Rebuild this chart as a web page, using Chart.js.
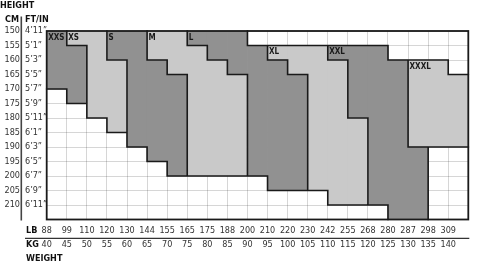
<!DOCTYPE html>
<html lang="en">
<head>
    <meta charset="UTF-8">
    <title>Size Chart</title>
    <!-- Include Chart.js -->
    <script src="https://cdn.jsdelivr.net/npm/chart.js"></script>
    <style>
        html, body { margin: 0; padding: 0; background: #fff; }
    </style>
</head>
<body>
    <canvas id="sizeChart" width="480" height="268"></canvas>

    <script>
        // Axis ticks: weight columns start every 5 kg, heights every 5 cm
        var kgTicks = [40, 45, 50, 55, 60, 65, 70, 75, 80, 85, 90, 95, 100, 105, 110, 115, 120, 125, 130, 135, 140];
        var lbTicks = [88, 99, 110, 120, 130, 144, 155, 165, 175, 188, 200, 210, 220, 230, 242, 255, 268, 280, 287, 298, 309];
        var cmTicks = [150, 155, 160, 165, 170, 175, 180, 185, 190, 195, 200, 205, 210];
        var ftTicks = ['4’11”', '5’1”', '5’3”', '5’5”', '5’7”', '5’9”', '5’11”', '6’1”', '6’3”', '6’5”', '6’7”', '6’9”', '6’11”'];

        // Sizes: each entry is [column start kg, from cm, to cm]
        var sizeNames = ['XXS', 'XS', 'S', 'M', 'L', 'XL', 'XXL', 'XXXL'];
        var xxs = [[40, 150, 170], [45, 155, 175]];
        var xs = [[45, 150, 155], [50, 150, 180], [55, 160, 185]];
        var s = [[55, 150, 160], [60, 150, 190], [65, 160, 195], [70, 165, 200]];
        var m = [[65, 150, 160], [70, 150, 165], [75, 155, 200], [80, 160, 200], [85, 165, 200]];
        var l = [[75, 150, 155], [80, 150, 160], [85, 150, 165], [90, 155, 200], [95, 160, 205], [100, 165, 205]];
        var xl = [[95, 155, 160], [100, 155, 165], [105, 155, 205], [110, 160, 210], [115, 180, 210]];
        var xxl = [[110, 155, 160], [115, 155, 180], [120, 155, 210], [125, 160, 215], [130, 190, 215]];
        var xxxl = [[130, 160, 190], [135, 160, 190], [140, 165, 190]];
        var sizeData = [xxs, xs, s, m, l, xl, xxl, xxxl];

        var colWidth = 5;
        var darkFill = '#919191';
        var lightFill = '#c9c9c9';
        var fontFamily = "'DejaVu Sans Condensed', 'DejaVu Sans', sans-serif";

        // which size owns each 5x5 cell (used for the black outlines)
        var owner = {};
        sizeData.forEach(function(pieces, si) {
            pieces.forEach(function(p) {
                for (var h = p[1]; h < p[2]; h += 5) owner[p[0] + '_' + h] = si;
            });
        });
        function own(kg, cm) {
            var v = owner[kg + '_' + cm];
            return v === undefined ? -1 : v;
        }

        var datasets = sizeData.map(function(pieces, si) {
            return {
                label: sizeNames[si],
                data: pieces.map(function(p) {
                    return { x: p[0] + colWidth / 2, y: [p[1], p[2]] };
                }),
                backgroundColor: si % 2 === 0 ? darkFill : lightFill,
                borderWidth: 0,
                grouped: false,
                barPercentage: 1,
                categoryPercentage: 1
            };
        });

        // outlines, size names and the header texts
        var sizeChartDecor = {
            id: 'sizeChartDecor',
            afterDraw: function(chart) {
                var ctx = chart.ctx;
                var xs_ = chart.scales.x, ys_ = chart.scales.y;
                var kgEnd = 145, cmEnd = 215;
                var area = chart.chartArea;
                ctx.save();

                // region outlines
                ctx.strokeStyle = '#1a1a1a';
                ctx.lineWidth = 1.6;
                ctx.lineCap = 'square';
                ctx.beginPath();
                var kg, cm;
                for (kg = 45; kg < kgEnd; kg += 5) {
                    for (cm = 150; cm < cmEnd; cm += 5) {
                        if (own(kg - 5, cm) !== own(kg, cm)) {
                            ctx.moveTo(xs_.getPixelForValue(kg), ys_.getPixelForValue(cm));
                            ctx.lineTo(xs_.getPixelForValue(kg), ys_.getPixelForValue(cm + 5));
                        }
                    }
                }
                for (cm = 155; cm < cmEnd; cm += 5) {
                    for (kg = 40; kg < kgEnd; kg += 5) {
                        if (own(kg, cm - 5) !== own(kg, cm)) {
                            ctx.moveTo(xs_.getPixelForValue(kg), ys_.getPixelForValue(cm));
                            ctx.lineTo(xs_.getPixelForValue(kg + 5), ys_.getPixelForValue(cm));
                        }
                    }
                }
                ctx.stroke();
                ctx.lineCap = 'butt';
                ctx.lineWidth = 1.8;
                ctx.strokeRect(area.left, area.top, area.right - area.left, area.bottom - area.top);

                // size names in the first cell of each size
                ctx.fillStyle = '#1a1a1a';
                ctx.font = 'bold 8px ' + fontFamily;
                ctx.textAlign = 'left';
                ctx.textBaseline = 'top';
                sizeData.forEach(function(pieces, si) {
                    var p = pieces[0];
                    ctx.fillText(sizeNames[si], xs_.getPixelForValue(p[0]) + 1.5, ys_.getPixelForValue(p[1]) + 2.5);
                });

                // headers
                var ycm = chart.scales.ycm, xkg = chart.scales.xkg;
                ctx.fillStyle = '#111';
                ctx.font = 'bold 9px ' + fontFamily;
                ctx.textBaseline = 'middle';
                ctx.fillText('HEIGHT', 0, 5.5);
                ctx.fillText('CM', 5, 20);
                ctx.fillText('FT/IN', ys_.left, 20);
                ctx.fillText('LB', 26, 230.5);
                ctx.fillText('KG', 26, 244.5);
                ctx.fillText('WEIGHT', 26, 258.5);

                // separator lines
                ctx.strokeStyle = '#444';
                ctx.lineWidth = 1.6;
                ctx.beginPath();
                ctx.moveTo(ycm.right - 3.7, 16.5);
                ctx.lineTo(ycm.right - 3.7, area.bottom + 1);
                ctx.stroke();
                ctx.lineWidth = 1.3;
                ctx.strokeStyle = '#333';
                ctx.beginPath();
                ctx.moveTo(25, xkg.top);
                ctx.lineTo(area.right + 1, xkg.top);
                ctx.stroke();
                ctx.restore();
            }
        };

        var tickFont = { family: fontFamily, size: 9 };

        var ctx = document.getElementById('sizeChart').getContext('2d');
        var myChart = new Chart(ctx, {
            type: 'bar',
            data: { datasets: datasets },
            options: {
                responsive: false,
                animation: false,
                devicePixelRatio: 1,
                layout: { padding: { top: 31, right: 11.7, bottom: 16, left: 0 } },
                plugins: {
                    legend: { display: false },
                    tooltip: { enabled: false }
                },
                scales: {
                    x: {
                        type: 'linear',
                        position: 'bottom',
                        weight: 0,
                        z: 1,
                        min: 40,
                        max: 145,
                        offset: false,
                        grid: { offset: false, color: 'rgba(0,0,0,0.16)', lineWidth: 1, drawTicks: false },
                        border: { display: false },
                        ticks: {
                            stepSize: 5,
                            autoSkip: false,
                            maxRotation: 0,
                            padding: 5.5,
                            color: '#333',
                            font: tickFont,
                            callback: function(v) {
                                var i = kgTicks.indexOf(v);
                                return i < 0 ? '' : lbTicks[i];
                            }
                        },
                        afterFit: function(scale) { scale.height = 18.8; }
                    },
                    xkg: {
                        type: 'linear',
                        position: 'bottom',
                        weight: 1,
                        min: 40,
                        max: 145,
                        offset: false,
                        grid: { display: false, drawTicks: false },
                        border: { display: false },
                        ticks: {
                            stepSize: 5,
                            autoSkip: false,
                            maxRotation: 0,
                            padding: 1,
                            color: '#333',
                            font: tickFont,
                            callback: function(v) {
                                return kgTicks.indexOf(v) < 0 ? '' : v;
                            }
                        },
                        afterFit: function(scale) { scale.height = 13.7; }
                    },
                    y: {
                        type: 'linear',
                        position: 'left',
                        weight: 0,
                        z: 1,
                        reverse: true,
                        min: 150,
                        max: 215,
                        grid: { color: 'rgba(0,0,0,0.16)', lineWidth: 1, drawTicks: false },
                        border: { display: false },
                        ticks: {
                            stepSize: 5,
                            autoSkip: false,
                            padding: 0,
                            crossAlign: 'far',
                            color: '#333',
                            font: tickFont,
                            callback: function(v) {
                                var i = cmTicks.indexOf(v);
                                return i < 0 ? '' : ftTicks[i];
                            }
                        },
                        afterFit: function(scale) { scale.width = 21.7; }
                    },
                    ycm: {
                        type: 'linear',
                        position: 'left',
                        weight: 1,
                        reverse: true,
                        min: 150,
                        max: 215,
                        grid: { display: false, drawTicks: false },
                        border: { display: false },
                        ticks: {
                            stepSize: 5,
                            autoSkip: false,
                            padding: 5,
                            color: '#333',
                            font: tickFont,
                            callback: function(v) {
                                return cmTicks.indexOf(v) < 0 ? '' : v;
                            }
                        },
                        afterFit: function(scale) { scale.width = 25; }
                    }
                }
            },
            plugins: [sizeChartDecor]
        });
    </script>
</body>
</html>
